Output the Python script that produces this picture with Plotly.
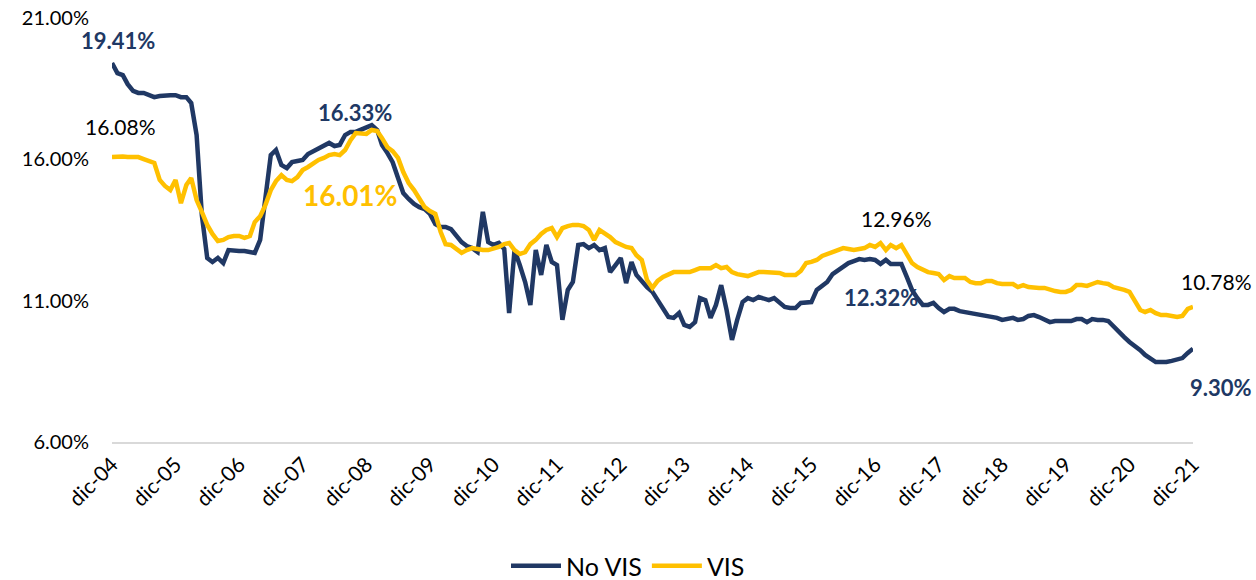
import pandas as pd
import plotly.graph_objects as go

# Monthly series, dic-04 .. dic-21 (205 months)
no_vis = [
    19.41, 19.05, 18.98, 18.66, 18.42, 18.35, 18.35, 18.27, 18.20, 18.24, 18.27, 18.27,
    18.27, 18.20, 18.20, 17.99, 16.86, 14.03, 12.51, 12.37, 12.51, 12.33, 12.79, 12.76,
    12.76, 12.76, 12.72, 12.69, 13.15, 14.74, 16.15, 16.33, 15.80, 15.69, 15.90, 15.94,
    15.98, 16.19, 16.29, 16.40, 16.51, 16.58, 16.47, 16.51, 16.86, 16.97, 16.97, 17.04,
    17.14, 17.21, 17.04, 16.51, 16.22, 15.90, 15.34, 14.81, 14.60, 14.42, 14.31, 14.24,
    14.07, 13.71, 13.61, 13.61, 13.53, 13.29, 13.07, 12.93, 12.86, 12.72, 14.14, 13.07,
    12.97, 13.04, 12.83, 10.56, 12.79, 12.26, 11.66, 10.85, 12.79, 11.91, 12.97, 12.37,
    12.26, 10.32, 11.38, 11.66, 12.97, 13.00, 12.86, 12.97, 12.79, 12.86, 12.01, 12.26,
    12.51, 11.62, 12.37, 11.91, 11.66, 11.48, 11.31, 11.02, 10.78, 10.42, 10.39, 10.56,
    10.14, 10.07, 10.24, 11.09, 11.02, 10.39, 10.85, 11.55, 10.67, 9.61, 10.32, 10.95,
    11.09, 11.02, 11.13, 11.06, 11.02, 11.09, 10.95, 10.78, 10.74, 10.74, 10.92, 10.95,
    10.95, 11.38, 11.55, 11.66, 11.94, 12.08, 12.23, 12.33, 12.40, 12.47, 12.44, 12.47,
    12.44, 12.30, 12.44, 12.30, 12.30, 12.30, 11.84, 11.38, 11.09, 10.85, 10.85, 10.92,
    10.74, 10.60, 10.71, 10.71, 10.63, 10.60, 10.56, 10.53, 10.49, 10.46, 10.42, 10.39,
    10.32, 10.35, 10.39, 10.32, 10.35, 10.46, 10.49, 10.42, 10.35, 10.24, 10.28, 10.28,
    10.28, 10.28, 10.35, 10.35, 10.24, 10.35, 10.32, 10.32, 10.28, 10.07, 9.89, 9.71,
    9.54, 9.40, 9.25, 9.08, 8.94, 8.83, 8.83, 8.83, 8.87, 8.94, 8.97, 9.15,
    9.30,
]

vis = [
    16.08, 16.10, 16.10, 16.08, 16.08, 16.08, 16.01, 15.94, 15.87, 15.27, 15.06, 14.91,
    15.27, 14.45, 15.09, 15.34, 14.56, 14.14, 13.68, 13.36, 13.11, 13.15, 13.25, 13.29,
    13.29, 13.22, 13.29, 13.78, 13.99, 14.38, 14.91, 15.23, 15.44, 15.27, 15.23, 15.37,
    15.62, 15.73, 15.87, 15.98, 16.05, 16.15, 16.19, 16.15, 16.33, 16.68, 16.93, 16.93,
    16.90, 17.04, 17.00, 16.75, 16.43, 16.29, 16.05, 15.55, 15.16, 14.91, 14.60, 14.31,
    14.17, 14.07, 13.43, 13.00, 12.97, 12.83, 12.69, 12.79, 12.86, 12.83, 12.79, 12.79,
    12.83, 12.90, 13.00, 13.04, 12.79, 12.65, 12.72, 13.00, 13.15, 13.36, 13.50, 13.57,
    13.25, 13.57, 13.64, 13.68, 13.68, 13.64, 13.50, 13.15, 13.50, 13.39, 13.25, 13.07,
    12.97, 12.90, 12.86, 12.61, 12.44, 11.73, 11.45, 11.70, 11.84, 11.94, 12.01, 12.01,
    12.01, 12.01, 12.08, 12.15, 12.15, 12.15, 12.26, 12.15, 12.19, 12.01, 11.94, 11.91,
    11.87, 11.94, 12.01, 12.01, 12.01, 12.01, 11.98, 11.91, 11.91, 11.91, 12.05, 12.33,
    12.37, 12.44, 12.58, 12.65, 12.72, 12.79, 12.86, 12.83, 12.79, 12.83, 12.86, 12.97,
    12.90, 13.04, 12.79, 12.97, 12.86, 12.97, 12.61, 12.33, 12.19, 12.08, 12.01, 11.98,
    11.94, 11.73, 11.87, 11.80, 11.80, 11.80, 11.66, 11.62, 11.62, 11.70, 11.70, 11.62,
    11.59, 11.59, 11.59, 11.48, 11.55, 11.48, 11.45, 11.45, 11.45, 11.38, 11.34, 11.31,
    11.31, 11.38, 11.55, 11.55, 11.52, 11.59, 11.66, 11.62, 11.59, 11.48, 11.41, 11.38,
    11.31, 11.02, 10.67, 10.60, 10.67, 10.56, 10.49, 10.49, 10.46, 10.42, 10.46, 10.71,
    10.78,
]

dates = pd.date_range("2004-12-01", periods=len(no_vis), freq="MS")
tick_dates = [d for d in dates if d.month == 12]
tick_labels = ["dic-04", "dic-05", "dic-06", "dic-07", "dic-08", "dic-09", "dic-10",
               "dic-11", "dic-12", "dic-13", "dic-14", "dic-15", "dic-16", "dic-17",
               "dic-18", "dic-19", "dic-20", "dic-21"]
y_ticks = [6, 11, 16, 21]
y_tick_labels = ["6.00%", "11.00%", "16.00%", "21.00%"]

NAVY = "#203864"
GOLD = "#FFC000"
FONT = "Lato"

fig = go.Figure()
fig.add_trace(go.Scatter(x=dates, y=no_vis, mode="lines", name="No VIS",
                         line=dict(color=NAVY, width=4.5)))
fig.add_trace(go.Scatter(x=dates, y=vis, mode="lines", name="VIS",
                         line=dict(color=GOLD, width=4.5)))

# data labels: (series, index, text, color, bold, size, xshift, yshift)
labels = [
    (no_vis, 0, "19.41%", NAVY, True, 22, 6, 22),
    (vis, 0, "16.08%", "#000000", False, 21, 8, 31),
    (no_vis, 45, "16.33%", NAVY, True, 22, 4, 19),
    (vis, 44, "16.01%", GOLD, True, 28, 5, -45),
    (vis, 148, "12.96%", "#000000", False, 21, 0, 30),
    (no_vis, 145, "12.32%", NAVY, True, 22, 1, -34),
    (vis, 204, "10.78%", "#000000", False, 21, 23, 25),
    (no_vis, 204, "9.30%", NAVY, True, 22, 28, -39),
]
for series, idx, txt, col, bold, size, xs, ys in labels:
    fig.add_annotation(x=dates[idx], y=series[idx], xref="x", yref="y",
                       text=f"<b>{txt}</b>" if bold else txt, showarrow=False,
                       xshift=xs, yshift=ys, xanchor="center", yanchor="middle",
                       font=dict(family=FONT, size=size, color=col))

fig.update_layout(
    width=1256, height=580,
    margin=dict(l=112, r=63, t=18, b=138, autoexpand=False),
    paper_bgcolor="white", plot_bgcolor="white",
    font=dict(family=FONT, color="#000000"),
    showlegend=True,
    legend=dict(orientation="h", xref="container", yref="container",
                x=0.5, xanchor="center", y=0.024, yanchor="middle",
                font=dict(family=FONT, size=25, color="#000000"),
                itemwidth=50),
)
fig.update_xaxes(type="date", range=[dates[0], dates[-1]], automargin=False,
                 tickvals=tick_dates, ticktext=tick_labels, tickangle=-45,
                 tickfont=dict(family=FONT, size=21, color="#000000"),
                 showgrid=False, zeroline=False,
                 showline=True, linecolor="#D9D9D9", linewidth=2, ticks="")
fig.update_yaxes(range=[6, 21], automargin=False,
                 tickvals=y_ticks, ticktext=y_tick_labels,
                 tickfont=dict(family=FONT, size=20, color="#000000"),
                 showgrid=False, zeroline=False, showline=False, ticks="",
                 ticklabelstandoff=22)

fig.write_html("out.html", config={"displayModeBar": False},
               post_script="document.body.style.margin='0';document.body.style.overflow='hidden';")
